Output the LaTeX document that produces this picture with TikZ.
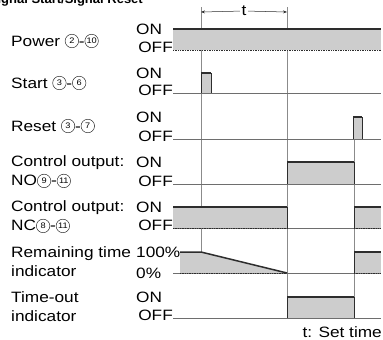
\documentclass[tikz,border=0pt]{standalone}
\usepackage{fontspec}
\setmainfont{Liberation Sans}[FakeStretch=1.15]
\newfontfamily\titlefont{Liberation Sans}
\usetikzlibrary{arrows.meta, positioning}
\definecolor{inkgray}{RGB}{45, 45, 45}
\definecolor{linegray}{RGB}{110, 110, 110}
\definecolor{stipple}{RGB}{205, 205, 205}
\newcommand{\lblfont}{\fontsize{15}{19}\selectfont}
\newcommand{\cnum}[1]{\tikz[baseline=-5pt]\node[circle, draw=inkgray, line width=0.5pt, inner sep=0pt, minimum size=13.5pt, font=\fontsize{8}{8}\selectfont] {#1};}
\tikzset{
	siglabel/.style={anchor=west, align=left, font=\lblfont, inner sep=0pt},
	levelon/.style={anchor=base west, font=\lblfont, inner sep=0pt},
	leveloff/.style={anchor=base east, font=\lblfont, inner sep=0pt},
	highedge/.style={draw=inkgray, line width=1.5pt},
	lowedge/.style={draw=inkgray, line width=0.8pt, dash pattern=on 1pt off 0.7pt},
	lowline/.style={draw=linegray, line width=0.6pt},
	sideedge/.style={draw=inkgray, line width=0.5pt},
	guide/.style={draw=linegray!80, line width=0.45pt},
	dimarrow/.style={-{Stealth[length=4pt, width=3pt]}, draw=inkgray, line width=0.5pt},
}

\begin{document}
\begin{tikzpicture}[x=1pt, y=-1pt]
	\useasboundingbox (0,0) rectangle (383,340);
	\node[anchor=base east, font=\titlefont\fontsize{13}{13}\selectfont\bfseries, inner sep=0pt] (title) at (143,4) {Signal Start/Signal Reset};

	% signal names
	\node[siglabel] (power) at (11,41) {Power \cnum{2}-\cnum{10}};
	\node[siglabel] (start) at (11,83) {Start \cnum{3}-\cnum{6}};
	\node[siglabel] (reset) at (11,126) {Reset \cnum{3}-\cnum{7}};
	\node[siglabel] (outno) at (11,172) {Control output:\\NO\cnum{9}-\cnum{11}};
	\node[siglabel] (outnc) at (11,217) {Control output:\\NC\cnum{8}-\cnum{11}};
	\node[siglabel] (remain) at (11,262) {Remaining time\\indicator};
	\node[siglabel] (timeout) at (11,307) {Time-out\\indicator};

	% levels
	\node[levelon] (powerOn) at (136,34.5) {ON};
	\node[leveloff] (powerOff) at (173,52.5) {OFF};
	\node[levelon] (startOn) at (136,78.5) {ON};
	\node[leveloff] (startOff) at (173,95.5) {OFF};
	\node[levelon] (resetOn) at (136,122.5) {ON};
	\node[leveloff] (resetOff) at (173,141.5) {OFF};
	\node[levelon] (noOn) at (136,167.5) {ON};
	\node[leveloff] (noOff) at (173,186.5) {OFF};
	\node[levelon] (ncOn) at (136,212.5) {ON};
	\node[leveloff] (ncOff) at (173,230.5) {OFF};
	\node[levelon] (remainFull) at (136,257.5) {100\%};
	\node[levelon] (remainNone) at (136,278.5) {0\%};
	\node[levelon] (timeoutOn) at (136,302.5) {ON};
	\node[leveloff] (timeoutOff) at (173,320.5) {OFF};

	% set time t
	\draw[guide] (201,7) -- (201,252);
	\draw[guide] (287,7) -- (287,318);
	\draw[guide] (354,117) -- (354,318);
	\node[font=\lblfont, inner sep=1.5pt] (tlab) at (244,11) {t};
	\coordinate (tleft) at (201,12);
	\coordinate (tright) at (287,12);
	\draw[dimarrow] (tlab) -- (tleft);
	\draw[dimarrow] (tlab) -- (tright);

	% power
	\fill[stipple] (173,29) rectangle (381,50);
	\draw[lowedge] (173,50) -- (381,50);
	\draw[highedge] (173,29) -- (381,29);

	% start
	\draw[lowline] (173,93) -- (381,93);
	\fill[stipple] (201,73) rectangle (211,93);
	\draw[sideedge] (201,93) -- (201,73) -- (211,73) -- (211,93);
	\draw[highedge] (201,73) -- (211,73);

	% reset
	\draw[lowline] (173,139) -- (381,139);
	\fill[stipple] (353,117) rectangle (362,139);
	\draw[sideedge] (353,139) -- (353,117) -- (362,117) -- (362,139);
	\draw[highedge] (353,117) -- (362,117);

	% control output NO
	\draw[lowline] (173,184) -- (381,184);
	\fill[stipple] (287,162) rectangle (354,184);
	\draw[sideedge] (287,184) -- (287,162) (354,162) -- (354,184);
	\draw[highedge] (287,162) -- (354,162);

	% control output NC
	\draw[lowline] (173,228) -- (381,228);
	\fill[stipple] (173,207) rectangle (287,228);
	\fill[stipple] (354,207) rectangle (381,228);
	\draw[lowedge] (173,228) -- (287,228) (354,228) -- (381,228);
	\draw[sideedge] (287,207) -- (287,228) (354,207) -- (354,228);
	\draw[highedge] (173,207) -- (287,207) (354,207) -- (381,207);

	% remaining time
	\draw[lowline] (173,273) -- (381,273);
	\fill[stipple] (180,252) -- (201,252) -- (287,273) -- (180,273) -- cycle;
	\fill[stipple] (354,252) rectangle (381,273);
	\draw[lowedge] (180,273) -- (287,273) (354,273) -- (381,273);
	\draw[sideedge] (354,252) -- (354,273);
	\draw[highedge] (180,252) -- (201,252) -- (287,273);
	\draw[highedge] (354,252) -- (381,252);

	% time-out
	\draw[lowline] (173,318) -- (381,318);
	\fill[stipple] (287,297) rectangle (354,318);
	\draw[sideedge] (287,318) -- (287,297) (354,297) -- (354,318);
	\draw[highedge] (287,297) -- (354,297);

	\node[anchor=base east, font=\lblfont, inner sep=0pt] (settime) at (382,337) {t: Set time};
\end{tikzpicture}
\end{document}
